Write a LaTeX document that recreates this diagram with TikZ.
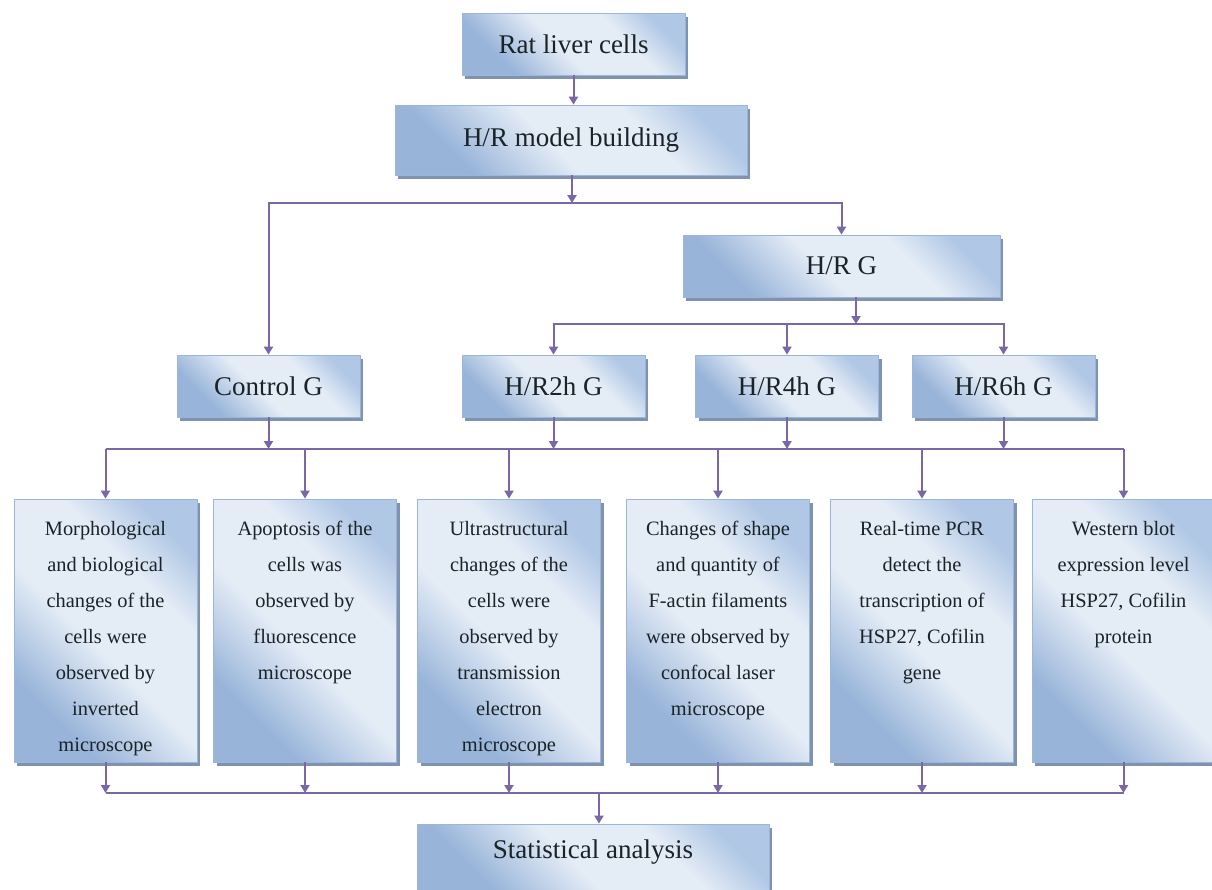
\documentclass[tikz,border=0pt]{standalone}
\usepackage{fontspec}
\setmainfont{Liberation Serif}
\usetikzlibrary{arrows.meta,shadows}
\definecolor{bdark}{RGB}{152,180,217}
\definecolor{blight}{RGB}{228,236,246}
\definecolor{bmid}{RGB}{176,199,229}
\definecolor{bborder}{RGB}{155,182,218}
\definecolor{shadowc}{RGB}{128,146,176}
\definecolor{connc}{RGB}{122,104,166}
\definecolor{txt}{RGB}{25,35,40}
\pgfdeclareverticalshading{boxshade}{100bp}{color(0bp)=(bdark); color(28bp)=(bdark); color(46bp)=(blight); color(64bp)=(blight); color(76bp)=(bmid); color(100bp)=(bmid)}
\begin{document}
\begin{tikzpicture}[x=0.5pt,y=-0.5pt,
  box/.style={draw=bborder, line width=0.4pt, shading=boxshade, shading angle=-45,
    drop shadow={shadow xshift=1.5pt, shadow yshift=-2pt, fill=shadowc, opacity=1},
    inner sep=0pt, text=txt},
  big/.style={box, font=\fontsize{13.5}{16}\selectfont},
  tall/.style={box, minimum width=91.5pt, minimum height=131.5pt},
  desc/.style={anchor=north, inner sep=0pt, align=center, text=txt, font=\fontsize{10.2}{18}\selectfont},
  conn/.style={draw=connc, line width=1pt},
  arr/.style={conn, -{Triangle[length=4pt,width=4.5pt]}},
]
\useasboundingbox (0,0) rectangle (1212,890);
\fill[white] (0,0) rectangle (1212,890);

% top boxes
\node[big, minimum width=111.5pt, minimum height=31pt] (rat) at (573.5,44) {Rat liver cells};
\node[big, minimum width=176pt, minimum height=35pt] (hrm) at (571,140) {H/R model building};
\node[big, minimum width=158.5pt, minimum height=31pt] (hrg) at (841.5,266) {H/R G};
% group row
\node[big, minimum width=91.5pt, minimum height=31pt] (ctrl) at (268.5,386) {Control G};
\node[big, minimum width=91.5pt, minimum height=31pt] (h2) at (553.5,386) {H/R2h G};
\node[big, minimum width=91.5pt, minimum height=31pt] (h4) at (787,386) {H/R4h G};
\node[big, minimum width=91.5pt, minimum height=31pt] (h6) at (1003.5,386) {H/R6h G};
% method boxes
\node[tall] (b1) at (105.5,630.5) {};
\node[tall] (b2) at (305,630.5) {};
\node[tall] (b3) at (509,630.5) {};
\node[tall] (b4) at (718,630.5) {};
\node[tall] (b5) at (922,630.5) {};
\node[tall] (b6) at (1123.5,630.5) {};
\node[desc] (t1) at ([yshift=-11pt]b1.north) {Morphological\\and biological\\changes of the\\cells were\\observed by\\inverted\\microscope};
\node[desc] (t2) at ([yshift=-11pt]b2.north) {Apoptosis of the\\cells was\\observed by\\fluorescence\\microscope};
\node[desc] (t3) at ([yshift=-11pt]b3.north) {Ultrastructural\\changes of the\\cells were\\observed by\\transmission\\electron\\microscope};
\node[desc] (t4) at ([yshift=-11pt]b4.north) {Changes of shape\\and quantity of\\F-actin filaments\\were observed by\\confocal laser\\microscope};
\node[desc] (t5) at ([yshift=-11pt]b5.north) {Real-time PCR\\detect the\\transcription of\\HSP27, Cofilin\\gene};
\node[desc] (t6) at ([yshift=-11pt]b6.north) {Western blot\\expression level\\HSP27, Cofilin\\protein};
% final box
\node[big, minimum width=176pt, minimum height=35pt] (stat) at (593,859) {\raisebox{3.5pt}[\height][\depth]{Statistical analysis}};

% connectors
\draw[arr] (rat.south) -- (rat.south |- hrm.north);
\coordinate (j1) at (572,203);
\draw[arr] (hrm.south -| j1) -- (j1);
\draw[arr] (j1) -| (ctrl.north);
\draw[arr] (j1) -| (hrg.north);

\coordinate (j2) at (856,324);
\draw[arr] (hrg.south -| j2) -- (j2);
\draw[arr] (j2) -| (h2.north);
\draw[arr] (j2) -| (h4.north);
\draw[arr] (j2) -| (h6.north);

\coordinate (j3) at (600,449);
\draw[conn] (b1.north |- j3) -- (b6.north |- j3);
\foreach \n in {ctrl,h2,h4,h6} {\draw[arr] (\n.south) -- (\n.south |- j3);}
\foreach \n in {b1,b2,b3,b4,b5,b6} {\draw[arr] (\n.north |- j3) -- (\n.north);}

\coordinate (j4) at (599,793);
\draw[conn] (b1.south |- j4) -- (b6.south |- j4);
\foreach \n in {b1,b2,b3,b4,b5,b6} {\draw[arr] (\n.south) -- (\n.south |- j4);}
\draw[arr] (j4) -- (j4 |- stat.north);
\end{tikzpicture}
\end{document}
